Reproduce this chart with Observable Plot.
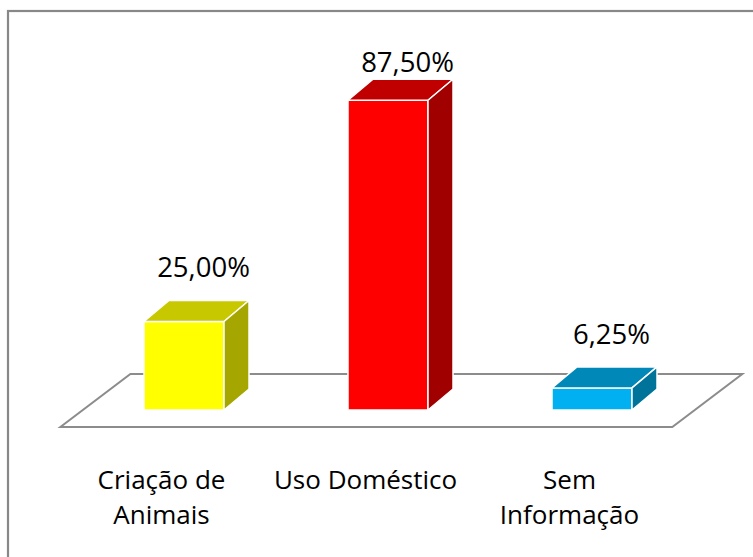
<!DOCTYPE html>
<html>
<head>
<meta charset="utf-8">
<script src="https://cdn.jsdelivr.net/npm/d3@7"></script>
<script src="https://cdn.jsdelivr.net/npm/@observablehq/plot@0.6"></script>
<style>
  html, body { margin: 0; padding: 0; background: #fff; }
  #chart { width: 753px; height: 557px; overflow: hidden; }
</style>
</head>
<body>
<div id="chart"></div>
<script>
// ---- data ----
const categories = ["Criação de Animais", "Uso Doméstico", "Sem Informação"];
const tickLabels = ["Criação de\nAnimais", "Uso Doméstico", "Sem\nInformação"];
const values = [25.00, 87.50, 6.25];
const valueLabels = ["25,00%", "87,50%", "6,25%"];
const frontColors = ["#FFFF00", "#FF0000", "#00B0F0"];
const topColors = ["#C8C800", "#C00000", "#0088B8"];
const sideColors = ["#A6A600", "#A00000", "#00739A"];

const data = categories.map((c, i) => ({
  category: c, value: values[i], label: valueLabels[i], tick: tickLabels[i],
  front: frontColors[i], top: topColors[i], side: sideColors[i]
}));

// 3D projection offsets (pixels)
const DX = 25, DY = -21;          // bar depth
const FDX = 70, FDY = -53;        // floor depth
const LABEL_CLAMP = 83;           // data labels are kept inside the plot area

function floorMark(index, scales) {
  const x = scales.x, y = scales.y;
  const [r0, r1] = x.range();
  const y0 = y(0);
  const fl = [r0 - 82.6, y0 + 17], fr = [r1 + 40.3, y0 + 17];
  const g = d3.create("svg:g");
  g.append("path")
    .attr("d", `M${fl}L${fr}L${fr[0] + FDX},${fr[1] + FDY}L${fl[0] + FDX},${fl[1] + FDY}Z`)
    .attr("fill", "#fff").attr("stroke", "#8c8c8c").attr("stroke-width", 2);
  return g.node();
}

function facesMark(index, scales) {
  const x = scales.x, y = scales.y;
  const bw = x.bandwidth();
  const g = d3.create("svg:g");
  for (const d of data) {
    const x0 = x(d.category), x1 = x0 + bw, y0 = y(0), y1 = y(d.value);
    g.append("path")
      .attr("d", `M${x0},${y1}L${x0 + DX},${y1 + DY}L${x1 + DX},${y1 + DY}L${x1},${y1}Z`)
      .attr("fill", d.top).attr("stroke", "#fff").attr("stroke-width", 1.5).attr("stroke-linejoin", "round");
    g.append("path")
      .attr("d", `M${x1},${y1}L${x1 + DX},${y1 + DY}L${x1 + DX},${y0 + DY}L${x1},${y0}Z`)
      .attr("fill", d.side).attr("stroke", "#fff").attr("stroke-width", 1.5).attr("stroke-linejoin", "round");
  }
  return g.node();
}

function borderMark() {
  const g = d3.create("svg:g");
  g.append("rect").attr("x", 8).attr("y", 11).attr("width", 900).attr("height", 700)
    .attr("fill", "none").attr("stroke", "#888").attr("stroke-width", 2.2);
  return g.node();
}

const chart = Plot.plot({
  width: 753,
  height: 557,
  marginTop: 56,
  marginBottom: 147,
  marginLeft: 143,
  marginRight: 121,
  style: { fontFamily: "'Open Sans', sans-serif", fontSize: "26px", background: "#fff", overflow: "visible" },
  x: { domain: categories, paddingInner: 0.608, paddingOuter: 0, axis: null },
  y: { domain: [0, 100], axis: null },
  marks: [
    borderMark,
    floorMark,
    Plot.barY(data, { x: "category", y: "value", fill: d => d.front, stroke: "#fff", strokeWidth: 1.5, inset: 0 }),
    facesMark,
    Plot.text(data, { x: "category", y: d => Math.min(d.value, LABEL_CLAMP), text: "label", dx: 19, dy: -53.6, fill: "#000", fontSize: 27.5 }),
    Plot.text(data, { x: "category", y: () => 0, text: "tick", lineAnchor: "top", lineHeight: 1.35, dx: -23, dy: 53.5, fill: "#000", fontSize: 26 })
  ]
});
document.getElementById("chart").append(chart);
</script>
</body>
</html>
